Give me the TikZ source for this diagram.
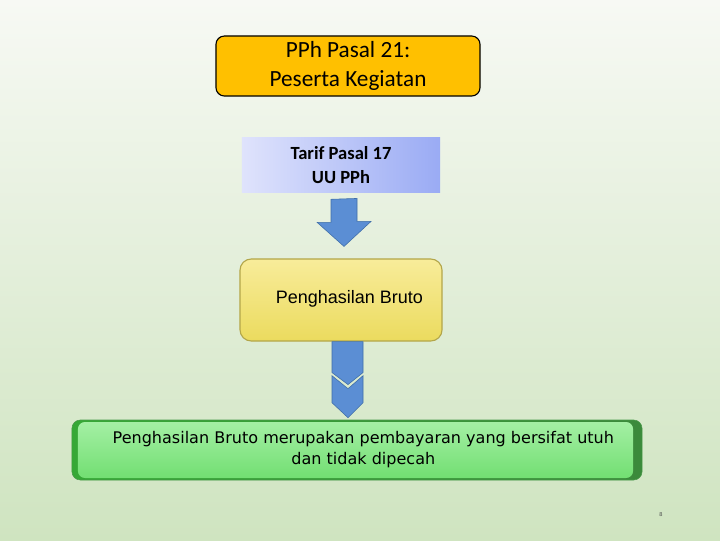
\documentclass[tikz,border=0pt]{standalone}
\usepackage{fontspec}
\setmainfont{Carlito}
\newfontfamily\arialfont{Liberation Sans}
\newfontfamily\tahomafont{DejaVu Sans}
\usetikzlibrary{calc}
\definecolor{bgtop}{HTML}{F7F9F4}
\definecolor{bgbot}{HTML}{CFE4C0}
\definecolor{titlefill}{HTML}{FFC000}
\definecolor{tarifleft}{HTML}{DFE3FC}
\definecolor{tarifright}{HTML}{9AABF4}
\definecolor{arrowfill}{HTML}{5B8ED4}
\definecolor{arrowline}{HTML}{3F6EA8}
\definecolor{brutotop}{HTML}{F8EC9A}
\definecolor{brutobot}{HTML}{EBDB5E}
\definecolor{brutoline}{HTML}{B3A64A}
\definecolor{greentop}{HTML}{A6F0A6}
\definecolor{greenbot}{HTML}{70DE70}
\definecolor{greenleft}{HTML}{36A836}
\definecolor{greenright}{HTML}{3B8A3B}
\definecolor{greenline}{HTML}{4A9A4A}
\begin{document}
\begin{tikzpicture}[
  x=0.025cm,y=-0.025cm,
  titlebox/.style={draw=black, thick, rounded corners=6pt, fill=titlefill, align=center, minimum width=6.6cm, minimum height=1.5cm, font=\fontsize{16.5}{21}\selectfont},
  tarifbox/.style={left color=tarifleft, right color=tarifright, align=center, minimum width=4.95cm, minimum height=1.35cm, font=\fontsize{13.2}{17}\selectfont\bfseries},
  brutobox/.style={draw=brutoline, thick, rounded corners=8pt, top color=brutotop, bottom color=brutobot, align=center, minimum width=5.05cm, minimum height=2.05cm, font=\arialfont\fontsize{12.8}{15}\selectfont},
  notebox/.style={draw=greenline, rounded corners=6pt, left color=greenleft, right color=greenright, align=center, minimum width=14.25cm, minimum height=1.5cm, font=\tahomafont\fontsize{11.4}{14.5}\selectfont,
    path picture={\shade[top color=greentop, bottom color=greenbot, rounded corners=5pt]
      ($(path picture bounding box.north west)+(6,2)$) rectangle ($(path picture bounding box.south east)+(-9,-2)$);}},
  blockarrow/.style={fill=arrowfill, draw=arrowline, line join=miter}
]
% background
\shade[top color=bgtop, bottom color=bgbot] (0,0) rectangle (720,540);
\useasboundingbox (0,0) rectangle (720,540);

\node[titlebox] (judul) at (348,66) {PPh Pasal 21:\\Peserta Kegiatan};
\node[tarifbox] (tarif) at (341,165) {Tarif Pasal 17\\UU PPh};
\node[brutobox] (bruto) at (341,300) {\hspace*{12pt}\raisebox{5pt}{Penghasilan Bruto}};
\node[notebox] (catatan) at (357,450) {\hspace*{9pt}\raisebox{2pt}{\begin{tabular}{@{}c@{}}Penghasilan Bruto merupakan pembayaran yang bersifat utuh\\dan tidak dipecah\end{tabular}}};

% block arrow tarif -> bruto
\draw[blockarrow] ($(tarif.south)+(-10,7)$) -- ++(0,23) -- ++(-14,0) -- ($(bruto.north)+(3,-12)$)
  -- ++(27,-25) -- ++(-14,0) -- ++(0,-23) -- cycle;

% chevrons bruto -> catatan
\draw[blockarrow] ($(bruto.south)+(-9,0)$) -- ++(0,31) -- ++(16,12) -- ++(15,-12) -- ++(0,-31) -- cycle;
\draw[blockarrow] ($(catatan.north)+(-25,-44)$) -- ++(0,27) -- ++(16,15) -- ++(15,-15) -- ++(0,-27)
  -- ++(-15,13) -- cycle;

\node[font=\arialfont\fontsize{4}{5}\selectfont, text=black!70] (halaman) at (661,515) {8};
\end{tikzpicture}
\end{document}
